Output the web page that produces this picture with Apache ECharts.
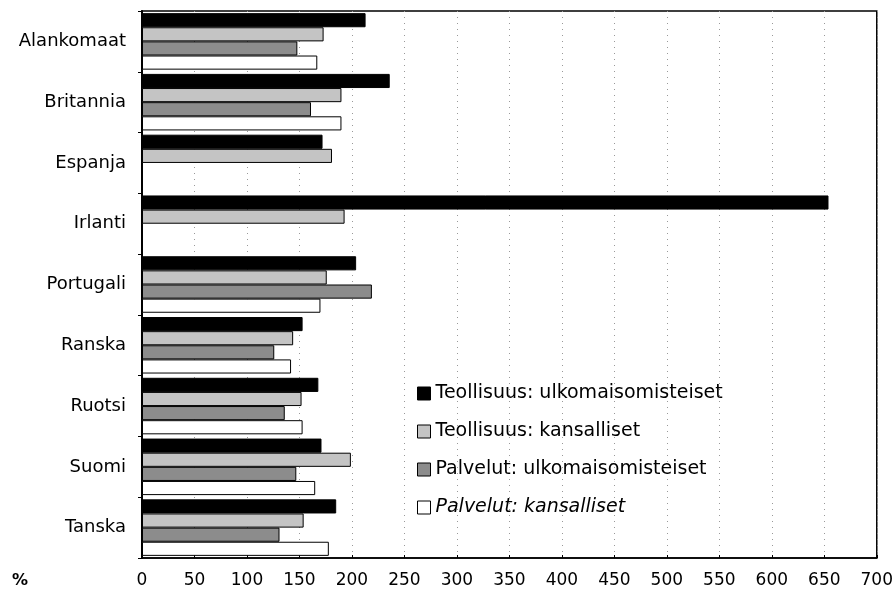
<!DOCTYPE html>
<html>
<head>
<meta charset="utf-8">
<script src="https://cdn.jsdelivr.net/npm/echarts@6/dist/echarts.min.js"></script>
<style>html,body{margin:0;padding:0;background:#fff}#c{width:896px;height:600px}</style>
</head>
<body>
<div id="c"></div>
<script>
const categories = ['Alankomaat','Britannia','Espanja','Irlanti','Portugali','Ranska','Ruotsi','Suomi','Tanska'];
const seriesNames = ['Teollisuus: ulkomaisomisteiset','Teollisuus: kansalliset','Palvelut: ulkomaisomisteiset','Palvelut: kansalliset'];
const teollUlko = [213, 236, 172, 654, 204, 153, 168, 171, 185];
const teollKans = [173, 190, 181, 193, 176, 144, 152, 199, 154];
const palvUlko  = [148, 161, null, null, 219, 126, 136, 147, 131];
const palvKans  = [167, 190, null, null, 170, 142, 153, 165, 178];
const xTicks = [0,50,100,150,200,250,300,350,400,450,500,550,600,650,700];

const colors = ['#000000','#c4c4c4','#8c8c8c','#ffffff'];
const dataArr = [teollUlko, teollKans, palvUlko, palvKans];
const font = 'DejaVu Sans, Liberation Sans, sans-serif';

const chart = echarts.init(document.getElementById('c'), null, {renderer:'canvas'});
chart.setOption({
  animation:false,
  backgroundColor:'#fff',
  grid:{left:142, right:19, top:11, bottom:42, show:true, borderColor:'#000', borderWidth:1.5, backgroundColor:'transparent'},
  xAxis:{
    type:'value', min:xTicks[0], max:xTicks[xTicks.length-1], interval:50,
    axisLine:{show:true, lineStyle:{color:'#000', width:1.5}},
    axisTick:{show:true, length:3, inside:true, lineStyle:{color:'#000'}},
    axisLabel:{color:'#000', fontSize:17, fontFamily:font, margin:14},
    splitLine:{show:true, lineStyle:{color:'#999', type:[1,5], width:1}}
  },
  yAxis:{
    type:'category', data:categories, inverse:true,
    axisLine:{show:true, lineStyle:{color:'#000', width:2}},
    axisTick:{show:true, length:4, lineStyle:{color:'#000'}},
    axisLabel:{color:'#000', fontSize:18, fontFamily:font, margin:16}
  },
  legend:{
    orient:'vertical', left:412, top:379, itemGap:19, itemWidth:13, itemHeight:13,
    textStyle:{color:'#000', fontSize:19, fontFamily:font},
    data:seriesNames.map((n,i)=>({name:n, icon:'rect', itemStyle:{borderColor:'#000', borderWidth:1}, textStyle: i===3?{fontStyle:'italic'}:{}}))
  },
  graphic:[{type:'text', left:12, top:573, style:{text:'%', fill:'#000', font:'bold 16px '+font}}],
  series: seriesNames.map((n,i)=>({
    name:n, type:'bar', data:dataArr[i], barGap:'0%', barCategoryGap:'7%',
    itemStyle:{color:colors[i], borderColor:'#000', borderWidth:1}
  }))
});
</script>
</body>
</html>
